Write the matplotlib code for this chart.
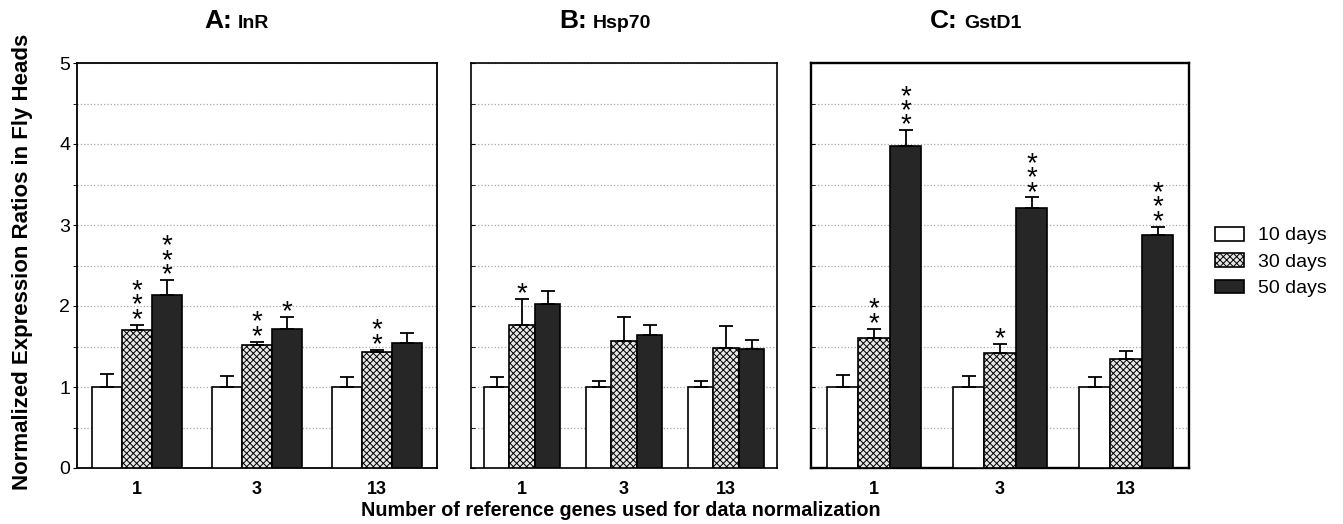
import numpy as np
import matplotlib
matplotlib.use("Agg")
import matplotlib.pyplot as plt
from matplotlib.patches import Patch

plt.rcParams['font.family'] = ['Liberation Sans', 'DejaVu Sans']
plt.rcParams['hatch.linewidth'] = 0.7

# data
groups = ['1', '3', '13']
series = ['10 days', '30 days', '50 days']

# A: InR
inr_10 = [1.0, 1.0, 1.0]
inr_10_err = [0.16, 0.13, 0.12]
inr_30 = [1.70, 1.52, 1.43]
inr_30_err = [0.07, 0.04, 0.03]
inr_50 = [2.13, 1.72, 1.54]
inr_50_err = [0.19, 0.15, 0.13]
inr_stars_30 = [3, 2, 2]
inr_stars_50 = [3, 1, 0]

# B: Hsp70
hsp_10 = [1.0, 1.0, 1.0]
hsp_10_err = [0.12, 0.08, 0.07]
hsp_30 = [1.76, 1.57, 1.48]
hsp_30_err = [0.33, 0.29, 0.27]
hsp_50 = [2.02, 1.64, 1.47]
hsp_50_err = [0.17, 0.12, 0.11]
hsp_stars_30 = [1, 0, 0]
hsp_stars_50 = [0, 0, 0]

# C: GstD1
gst_10 = [1.0, 1.0, 1.0]
gst_10_err = [0.15, 0.13, 0.12]
gst_30 = [1.60, 1.42, 1.34]
gst_30_err = [0.12, 0.11, 0.10]
gst_50 = [3.98, 3.21, 2.88]
gst_50_err = [0.19, 0.13, 0.10]
gst_stars_30 = [2, 1, 0]
gst_stars_50 = [3, 3, 3]

fills = ['white', '#e6e6e6', '#262626']
hatches = ['', 'xxxxx', '']
w = 0.25

fig = plt.figure(figsize=(13.43, 5.24), dpi=100)

panels = [
    ([77, 360], 'A:', 'InR', 232, 238,
     [inr_10, inr_30, inr_50], [inr_10_err, inr_30_err, inr_50_err],
     [None, inr_stars_30, inr_stars_50], 1.3),
    ([471, 306], 'B:', 'Hsp70', 587, 593,
     [hsp_10, hsp_30, hsp_50], [hsp_10_err, hsp_30_err, hsp_50_err],
     [None, hsp_stars_30, hsp_stars_50], 1.2),
    ([811, 378], 'C:', 'GstD1', 958, 964,
     [gst_10, gst_30, gst_50], [gst_10_err, gst_30_err, gst_50_err],
     [None, gst_stars_30, gst_stars_50], 1.7),
]

W, H = 1343, 524
x = np.arange(1, len(groups) + 1)

for k, (pos, letter, gene, xl, xg, vals, errs, stars, frame_lw) in enumerate(panels):
    ax = fig.add_axes([pos[0] / W, (H - 468) / H, pos[1] / W, 405 / H])
    for j in range(3):
        xs = x + (j - 1) * w
        ax.bar(xs, vals[j], width=w, color=fills[j], edgecolor='black',
               linewidth=1.2, hatch=hatches[j], zorder=3)
        ax.errorbar(xs, vals[j], yerr=[np.zeros(3), errs[j]], fmt='none',
                    ecolor='black', elinewidth=1.3, capsize=5, capthick=1.3, zorder=4)
        if stars[j] is None:
            continue
        for xi, v, e, n in zip(xs, vals[j], errs[j], stars[j]):
            if n == 0:
                continue
            ax.annotate('\n'.join(['*'] * n), xy=(xi, v + e), xytext=(0, -6),
                        textcoords='offset points', ha='center', va='bottom',
                        fontsize=20, linespacing=0.42, zorder=5)

    ax.set_xlim(0.5, 3.5)
    ax.set_ylim(0, 5)
    ax.set_xticks(x)
    ax.set_xticklabels(groups, fontsize=13, fontweight='bold')
    ax.tick_params(axis='x', length=0, pad=9)
    ax.set_yticks(np.arange(0, 6, 1))
    ax.set_yticks(np.arange(0.5, 5, 1), minor=True)
    ax.grid(axis='y', which='both', linestyle=':', color='#a8a8a8', linewidth=0.9, zorder=0)
    if k == 0:
        ax.tick_params(axis='y', which='both', direction='out', length=3, pad=2, labelsize=14)
    else:
        ax.tick_params(axis='y', which='both', direction='in', length=3, labelleft=False)
    for sp in ax.spines.values():
        sp.set_linewidth(frame_lw)

    fig.text(xl / W, 1 - 28 / H, letter, ha='right', va='baseline',
             fontsize=19, fontweight='bold')
    fig.text(xg / W, 1 - 28 / H, gene, ha='left', va='baseline',
             fontsize=14, fontweight='bold')

fig.text(23 / W, 1 - 262 / H, 'Normalized Expression Ratios in Fly Heads', rotation=90,
         ha='center', va='center', fontsize=16, fontweight='bold')
fig.text(621 / W, 1 - 510 / H, 'Number of reference genes used for data normalization',
         ha='center', va='center', fontsize=14.2, fontweight='bold')

handles = [Patch(facecolor=fills[j], edgecolor='black', hatch=hatches[j], linewidth=1.2)
           for j in range(3)]
fig.legend(handles, series, loc='center left', bbox_to_anchor=(1215 / W, 1 - 262 / H),
           frameon=False, fontsize=14, borderpad=0, borderaxespad=0,
           handlelength=1.5, handleheight=0.72, handletextpad=0.72, labelspacing=0.45)

fig.savefig('out.png', dpi=100)
